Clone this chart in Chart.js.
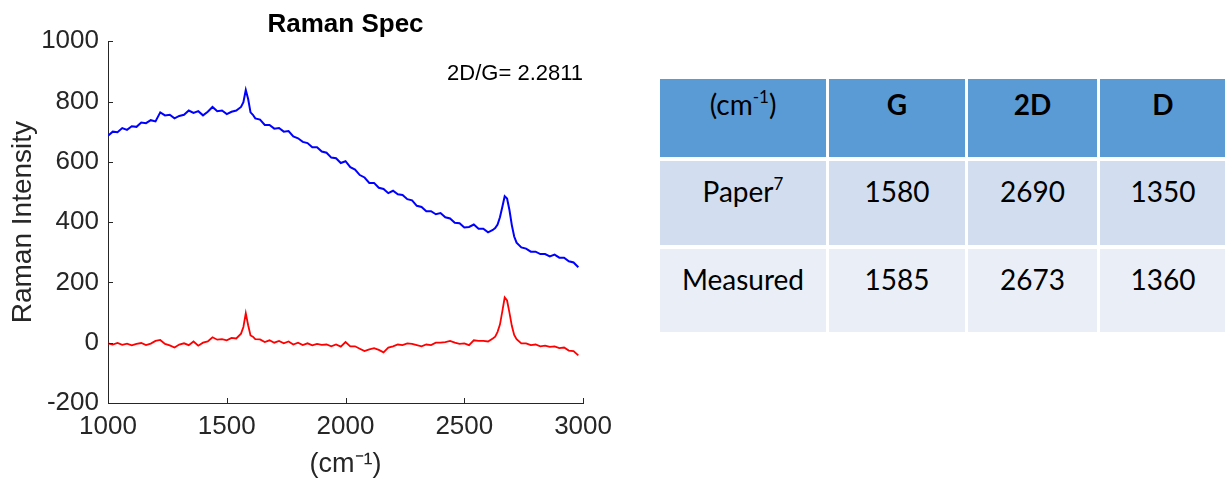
<!DOCTYPE html>
<html>
<head>
<meta charset="utf-8">
<script src="https://cdn.jsdelivr.net/npm/chart.js@4.4.0/dist/chart.umd.min.js"></script>
<style>
  body { margin: 0; width: 1225px; height: 481px; overflow: hidden; background: #fff; position: relative; }
  #plotBox { position: absolute; left: 0; top: 0; width: 620px; height: 481px; }
  #peaks { position: absolute; left: 657px; top: 75px; border-collapse: separate; border-spacing: 3px 4px;
           font-family: Lato, "Open Sans", sans-serif; font-size: 28px; color: #000; }
  #peaks td { text-align: center; vertical-align: top; padding: 13px 0 0 0; box-sizing: border-box; }
  #peaks tr.head td { background: #5b9bd5; height: 78px; padding-top: 8px; }
  #peaks tr.head td.band { font-weight: bold; }
  #peaks tr.paper td { background: #d2deef; height: 84px; }
  #peaks tr.measured td { background: #eaeff7; height: 83px; }
  #peaks sup { font-size: 17px; vertical-align: 12px; line-height: 0; }
</style>
</head>
<body>
<div id="plotBox"><canvas id="ramanChart" width="620" height="481"></canvas></div>
<table id="peaks"></table>
<script>
// spectrum (cm^-1 vs intensity)
var wavenumbers = [1000,1020,1040,1060,1080,1100,1120,1140,1160,1180,
  1200,1220,1240,1260,1280,1300,1320,1340,1360,1380,
  1400,1420,1440,1460,1480,1500,1520,1540,1560,1570,
  1580,1590,1600,1610,1620,1640,1660,1680,1700,1720,
  1740,1760,1780,1800,1820,1840,1860,1880,1900,1920,
  1940,1960,1980,2000,2020,2040,2060,2080,2100,2120,
  2140,2160,2180,2200,2220,2240,2260,2280,2300,2320,
  2340,2360,2380,2400,2420,2440,2460,2480,2500,2520,
  2540,2560,2580,2600,2620,2630,2640,2650,2660,2670,
  2680,2690,2700,2710,2720,2740,2760,2780,2800,2820,
  2840,2860,2880,2900,2920,2940,2960,2980];

var rawSpectrum = [686,700,698,712,706,718,716,730,728,738,
  734,764,754,756,744,752,756,770,762,768,
  754,766,782,768,770,758,766,770,782,798,
  838,808,764,756,744,740,722,722,710,712,
  700,702,684,678,666,662,648,648,634,630,
  614,612,596,602,582,574,556,548,530,530,
  514,510,496,504,492,490,476,472,454,450,
  436,436,426,430,416,412,398,396,382,384,
  392,378,378,366,374,380,392,416,450,486,
  478,440,390,352,332,316,312,302,302,294,
  294,286,292,282,282,270,266,250];

var baselineCorrected = [-2,-6,-1,-7,-3,-9,-4,-1,-8,-3,
  6,9,-4,-9,-16,-6,-2,-8,4,-10,
  0,4,18,10,12,8,16,14,30,52,
  98,58,24,20,12,11,2,8,0,6,
  -2,4,-6,0,-8,-2,-9,-4,-7,-6,
  -12,-6,-13,2,-12,-12,-20,-28,-22,-18,
  -24,-32,-16,-12,-6,-8,-2,-4,-8,-12,
  -6,-8,0,0,2,6,0,-4,-2,-8,
  8,6,6,4,14,20,36,60,104,150,
  140,100,56,26,12,-2,-2,-8,-6,-12,
  -10,-14,-12,-18,-16,-26,-28,-42];

var xTicks = [1000, 1500, 2000, 2500, 3000];
var yTicks = [-200, 0, 200, 400, 600, 800, 1000];
var ratioText = "2D/G= 2.2811";

// table values
var tableHeaders = ["G", "2D", "D"];
var paperPeaks = [1580, 2690, 1350];
var measuredPeaks = [1585, 2673, 1360];

function toPoints(ys) {
    var pts = [];
    for (var i = 0; i < wavenumbers.length; i++) {
        pts.push({x: wavenumbers[i], y: ys[i]});
    }
    return pts;
}

var axisColor = "#262626";
var plotFont = "Arial, 'Liberation Sans', sans-serif";

// matlab style ticks pointing into the plot + the ratio text
var matlabBits = {
    id: "matlabBits",
    afterDraw: function(chart) {
        var ctx = chart.ctx;
        var area = chart.chartArea;
        var xs = chart.scales.x, ys = chart.scales.y;
        ctx.save();
        ctx.strokeStyle = axisColor;
        ctx.lineWidth = 1;
        ctx.beginPath();
        xTicks.forEach(function(v) {
            var px = Math.round(xs.getPixelForValue(v)) + 0.5;
            ctx.moveTo(px, area.bottom);
            ctx.lineTo(px, area.bottom - 5);
        });
        yTicks.forEach(function(v) {
            var py = Math.round(ys.getPixelForValue(v)) + 0.5;
            ctx.moveTo(area.left, py);
            ctx.lineTo(area.left + 5, py);
        });
        ctx.stroke();
        ctx.fillStyle = "#000";
        ctx.font = "22px " + plotFont;
        ctx.textAlign = "right";
        ctx.textBaseline = "middle";
        ctx.fillText(ratioText, xs.getPixelForValue(3000), ys.getPixelForValue(893));
        ctx.restore();
    }
};

var ctx = document.getElementById("ramanChart");
var ramanChart = new Chart(ctx, {
    type: "line",
    data: {
        datasets: [
            {
                label: "raw",
                data: toPoints(rawSpectrum),
                borderColor: "#0000ff",
                borderWidth: 2,
                pointRadius: 0,
                tension: 0
            }, {
                label: "corrected",
                data: toPoints(baselineCorrected),
                borderColor: "#ff0000",
                borderWidth: 1.8,
                pointRadius: 0,
                tension: 0
            }
        ]
    },
    options: {
        responsive: false,
        animation: false,
        events: [],
        layout: { padding: { left: 0, right: 34, top: 0, bottom: 0 } },
        plugins: {
            legend: { display: false },
            tooltip: { enabled: false },
            title: {
                display: true,
                text: "Raman Spec",
                fullSize: false,
                color: "#000",
                font: { family: plotFont, size: 26, weight: "bold" },
                padding: { top: 9, bottom: 1 }
            }
        },
        scales: {
            x: {
                type: "linear",
                min: 1000,
                max: 3000,
                afterBuildTicks: function(scale) {
                    scale.ticks = xTicks.map(function(v) { return {value: v}; });
                },
                afterFit: function(scale) { scale.height = 78; },
                grid: { drawOnChartArea: false, drawTicks: false },
                border: { display: true, color: axisColor, width: 1 },
                ticks: {
                    color: axisColor,
                    padding: 8,
                    maxRotation: 0,
                    font: { family: plotFont, size: 26 },
                    callback: function(v) { return String(v); }
                },
                title: {
                    display: true,
                    text: "(cm\u207B\u00B9)",
                    color: axisColor,
                    padding: { top: 0, bottom: 0 },
                    font: { family: plotFont, size: 27 }
                }
            },
            y: {
                min: -200,
                max: 1000,
                afterBuildTicks: function(scale) {
                    scale.ticks = yTicks.map(function(v) { return {value: v}; });
                },
                afterFit: function(scale) { scale.width = 108; },
                grid: { drawOnChartArea: false, drawTicks: false },
                border: { display: true, color: axisColor, width: 1 },
                ticks: {
                    color: axisColor,
                    padding: 9,
                    font: { family: plotFont, size: 26 },
                    callback: function(v) { return String(v); }
                },
                title: {
                    display: true,
                    text: "Raman Intensity",
                    color: axisColor,
                    padding: { top: 6, bottom: 0 },
                    font: { family: plotFont, size: 28 }
                }
            }
        }
    },
    plugins: [matlabBits]
});

// peak table
function buildTable() {
    var table = document.getElementById("peaks");
    var head = "<tr class='head'><td>(cm<sup>-1</sup>)</td>";
    tableHeaders.forEach(function(h) { head += "<td class='band'>" + h + "</td>"; });
    head += "</tr>";
    var paper = "<tr class='paper'><td>Paper<sup>7</sup></td>";
    paperPeaks.forEach(function(v) { paper += "<td>" + v + "</td>"; });
    paper += "</tr>";
    var measured = "<tr class='measured'><td>Measured</td>";
    measuredPeaks.forEach(function(v) { measured += "<td>" + v + "</td>"; });
    measured += "</tr>";
    table.innerHTML = head + paper + measured;
    var widths = [166, 136, 129, 126];
    var cells = table.rows[0].cells;
    for (var i = 0; i < cells.length; i++) {
        cells[i].style.width = widths[i] + "px";
        cells[i].style.minWidth = widths[i] + "px";
    }
}
buildTable();
</script>
</body>
</html>
